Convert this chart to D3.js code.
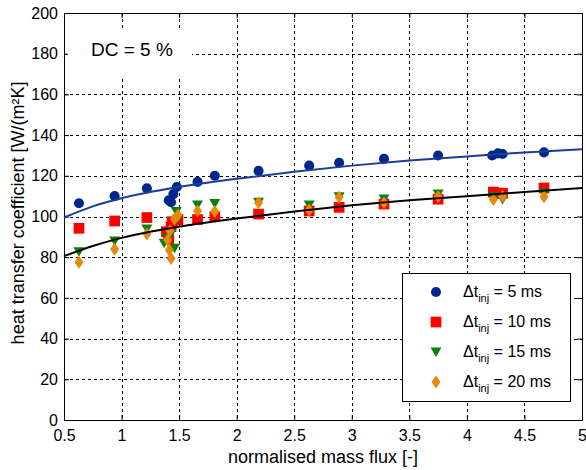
<!DOCTYPE html>
<html>
<head>
<meta charset="utf-8">
<script src="https://cdn.jsdelivr.net/npm/d3@7"></script>
<style>
  body { margin: 0; background: #fff; }
  text { font-family: "Liberation Sans", Arial, sans-serif; }
</style>
</head>
<body>
<div id="canvas"></div>
<script>
"use strict"

// measured points, one array per injection time
let x5 = [0.63, 0.94, 1.22, 1.41, 1.43, 1.45, 1.48, 1.66, 1.81, 2.19, 2.63, 2.89, 3.28, 3.75, 4.22, 4.27, 4.31, 4.67];
let y5 = [106.5, 110, 113.8, 108, 107, 111, 114.5, 117, 120, 122.4, 125, 126.4, 128.3, 130, 130, 131, 130.7, 131.5];

let x10 = [0.63, 0.94, 1.22, 1.39, 1.41, 1.43, 1.44, 1.49, 1.66, 1.81, 2.19, 2.63, 2.89, 3.28, 3.75, 4.23, 4.27, 4.31, 4.67];
let y10 = [94.2, 97.8, 99.5, 92.5, 89, 95, 97.4, 98.3, 98.5, 99.9, 101.2, 102.7, 104.5, 106.1, 108.5, 112, 111.5, 111.4, 114];

let x15 = [0.63, 0.94, 1.22, 1.37, 1.40, 1.43, 1.46, 1.475, 1.49, 1.66, 1.81, 2.19, 2.63, 2.89, 3.28, 3.75, 4.23, 4.31, 4.67];
let y15 = [82.7, 88, 93.9, 86.8, 89.5, 91.7, 84.4, 102.4, 99, 105.6, 106.4, 107, 105.6, 109.7, 108.6, 111, 110, 108.4, 111.7];

let x20 = [0.63, 0.94, 1.22, 1.40, 1.415, 1.42, 1.43, 1.46, 1.49, 1.66, 1.81, 2.19, 2.63, 2.89, 3.28, 3.75, 4.23, 4.31, 4.67];
let y20 = [77.5, 83.9, 91.4, 88.5, 83.5, 93, 79.4, 98.6, 100.7, 102.7, 102.4, 106.8, 103.2, 109.4, 106.8, 109.7, 108.4, 110, 109.7];

// fitted curves
let fitX = [0.5, 0.75, 1, 1.5, 2, 2.5, 3, 3.5, 4, 4.5, 5];
let fitBlue = [99.5, 105, 109, 114.5, 118.5, 122, 125, 127.5, 129.5, 131.5, 133];
let fitBlack = [80.5, 85.5, 89.5, 95, 99, 102.5, 105.5, 108, 110, 112, 114];

let xTicks = [0.5, 1, 1.5, 2, 2.5, 3, 3.5, 4, 4.5, 5];
let yTicks = [0, 20, 40, 60, 80, 100, 120, 140, 160, 180, 200];

let legendLabels = ["5", "10", "15", "20"];

let width = 586;
let height = 470;
let plotLeft = 64, plotRight = 582, plotTop = 13, plotBottom = 420;

let drawing = d3.select("#canvas")
    .append("svg")
    .attr("width", width)
    .attr("height", height);

drawing.append("rect")
    .attr("width", width)
    .attr("height", height)
    .attr("fill", "#fff");

let x = d3.scaleLinear().domain([0.5, 5]).range([plotLeft, plotRight]);
let y = d3.scaleLinear().domain([0, 200]).range([plotBottom, plotTop]);

/* dashed grid */
let grid = drawing.append("g")
    .attr("stroke", "#000")
    .attr("stroke-width", 1)
    .attr("stroke-dasharray", "3,3");

grid.selectAll(".gx")
    .data(xTicks.slice(1, -1))
    .enter().append("line")
    .attr("x1", d => Math.round(x(d)) + 0.5)
    .attr("x2", d => Math.round(x(d)) + 0.5)
    .attr("y1", plotTop)
    .attr("y2", plotBottom);

grid.selectAll(".gy")
    .data(yTicks.slice(1, -1))
    .enter().append("line")
    .attr("y1", d => Math.round(y(d)) + 0.5)
    .attr("y2", d => Math.round(y(d)) + 0.5)
    .attr("x1", plotLeft)
    .attr("x2", plotRight);

/* axes, ticks point inwards like matlab */
let fmt = d => String(d);

drawing.append("g")
    .attr("transform", "translate(0," + plotBottom + ")")
    .call(d3.axisBottom(x).tickValues(xTicks).tickFormat(fmt).tickSize(-5).tickPadding(10));

drawing.append("g")
    .attr("transform", "translate(0," + plotTop + ")")
    .call(d3.axisTop(x).tickValues(xTicks).tickFormat("").tickSize(-5));

drawing.append("g")
    .attr("transform", "translate(" + plotLeft + ",0)")
    .call(d3.axisLeft(y).tickValues(yTicks).tickFormat(fmt).tickSize(-5).tickPadding(6));

drawing.append("g")
    .attr("transform", "translate(" + plotRight + ",0)")
    .call(d3.axisRight(y).tickValues(yTicks).tickFormat("").tickSize(-5));

drawing.selectAll(".domain").remove();
drawing.selectAll(".tick line").attr("stroke", "#000");
drawing.selectAll(".tick text")
    .attr("fill", "#000")
    .style("font-size", "16px")
    .style("font-family", "'Liberation Sans', Arial, sans-serif");

// box round the plot
drawing.append("rect")
    .attr("x", plotLeft + 0.5)
    .attr("y", plotTop + 0.5)
    .attr("width", plotRight - plotLeft)
    .attr("height", plotBottom - plotTop)
    .attr("fill", "none")
    .attr("stroke", "#000")
    .attr("stroke-width", 1);

/* markers */
let blue = "#00288c";
let red = "#ff0000";
let green = "#0a800a";
let orange = "#e8890c";

let sym = {
    circle: d3.symbol().type(d3.symbolCircle).size(80),
    square: d3.symbol().type(d3.symbolSquare).size(115),
    triangle: "M-5.5,-4.5L5.5,-4.5L0,5Z",
    diamond: "M0,-6.5L4.5,0L0,6.5L-4.5,0Z"
};

function drawSeries(xs, ys, path, colour) {
    drawing.append("g").selectAll("path")
        .data(xs.map((d, i) => [d, ys[i]]))
        .enter().append("path")
        .attr("transform", d => "translate(" + x(d[0]) + "," + y(d[1]) + ")")
        .attr("d", path)
        .attr("fill", colour);
}

drawSeries(x5, y5, sym.circle(), blue);
drawSeries(x10, y10, sym.square(), red);
drawSeries(x15, y15, sym.triangle, green);
drawSeries(x20, y20, sym.diamond, orange);

/* fit curves */
let line = d3.line()
    .x(d => x(d[0]))
    .y(d => y(d[1]))
    .curve(d3.curveMonotoneX);

drawing.append("path")
    .attr("d", line(fitX.map((d, i) => [d, fitBlue[i]])))
    .attr("fill", "none")
    .attr("stroke", "#1a3c9a")
    .attr("stroke-width", 2);

drawing.append("path")
    .attr("d", line(fitX.map((d, i) => [d, fitBlack[i]])))
    .attr("fill", "none")
    .attr("stroke", "#000")
    .attr("stroke-width", 2);

/* labels */
drawing.append("text")
    .attr("x", (plotLeft + plotRight) / 2)
    .attr("y", 463)
    .attr("text-anchor", "middle")
    .style("font-size", "18px")
    .text("normalised mass flux [-]");

drawing.append("text")
    .attr("transform", "translate(24," + 213 + ") rotate(-90)")
    .attr("text-anchor", "middle")
    .style("font-size", "18px")
    .text("heat transfer coefficient [W/(m²K]");

// the DC note sits on a white patch that hides the grid
drawing.append("rect")
    .attr("x", 68)
    .attr("y", 31)
    .attr("width", 124)
    .attr("height", 45)
    .attr("fill", "#fff");

drawing.append("text")
    .attr("x", 91)
    .attr("y", 56)
    .style("font-size", "19px")
    .text("DC = 5 %");

/* legend */
let legend = drawing.append("g");

legend.append("rect")
    .attr("x", 402.5)
    .attr("y", 273.5)
    .attr("width", 168)
    .attr("height", 128)
    .attr("fill", "#fff")
    .attr("stroke", "#000")
    .attr("stroke-width", 1);

let legendMarks = [sym.circle(), sym.square(), sym.triangle, sym.diamond];
let legendColours = [blue, red, green, orange];

legendLabels.forEach((lab, i) => {
    let ly = 292 + i * 30;
    legend.append("path")
        .attr("transform", "translate(436," + ly + ")")
        .attr("d", legendMarks[i])
        .attr("fill", legendColours[i]);
    let t = legend.append("text")
        .attr("x", 463)
        .attr("y", ly + 5)
        .style("font-size", "16px");
    t.append("tspan").text("Δt");
    t.append("tspan").attr("dy", 5).style("font-size", "11px").text("inj");
    t.append("tspan").attr("dy", -5).text(" = " + lab + " ms");
});
</script>
</body>
</html>
